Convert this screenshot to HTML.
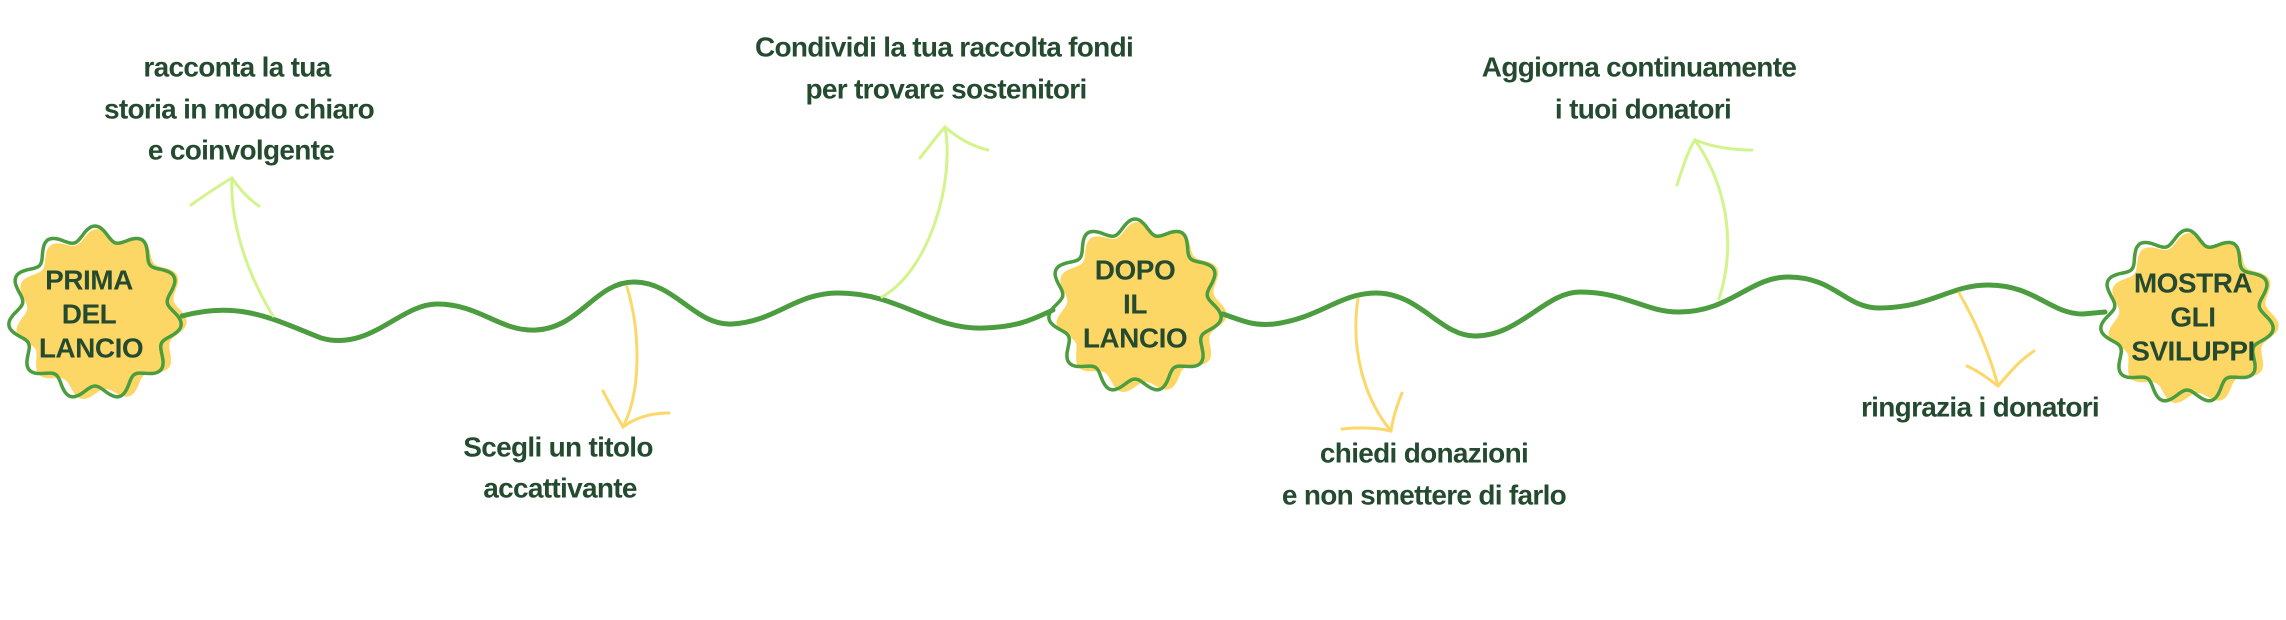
<!DOCTYPE html>
<html><head><meta charset="utf-8"><style>
html,body{margin:0;padding:0;background:#fff;}
svg{display:block;}
text{font-family:"Liberation Sans",sans-serif;font-weight:bold;fill:#244a2f;text-anchor:middle;dominant-baseline:middle;}
.l{font-size:28px;letter-spacing:-0.7px;}
.b{font-size:28px;letter-spacing:-0.5px;}
</style></head><body>
<svg id="s" width="2286" height="620" viewBox="0 0 2286 620" xmlns="http://www.w3.org/2000/svg">
<g id="badges"></g>
<path d="M182,316 C240,300 275,320 321,338 C370,352 400,304 437,304 C480,304 500,332 536,330 C580,328 595,282 634,282 C675,282 695,326 732,324 C775,322 795,293 838,293 C900,293 930,330 984,328 C1020,327 1035,318 1053,310" fill="none" stroke="#4c9d3f" stroke-width="5" stroke-linecap="round"/>
<path d="M1223,314 C1245,322 1255,326 1274,324 C1320,318 1340,293 1376,293 C1420,293 1440,336 1475,336 C1520,336 1545,292 1580,292 C1625,292 1645,312 1679,312 C1730,312 1750,277 1788,277 C1835,277 1845,308 1879,308 C1930,308 1950,285 1988,285 C2035,285 2050,314 2083,314 L2105,312" fill="none" stroke="#4c9d3f" stroke-width="5" stroke-linecap="round"/>
<g fill="none" stroke-width="3" stroke-linecap="round">
<path d="M273,316 C245,270 230,220 232,178" stroke="#d3f48c"/>
<path d="M191,205 C205,195 220,185 232,178 C240,190 250,200 259,206" stroke="#d3f48c"/>
<path d="M882,297 C930,270 955,180 945,127" stroke="#d3f48c"/>
<path d="M920,158 C930,145 938,135 945,127 C960,140 975,147 988,150" stroke="#d3f48c"/>
<path d="M1719,299 C1735,250 1730,190 1695,140" stroke="#d3f48c"/>
<path d="M1677,185 C1682,170 1688,150 1695,140 C1715,148 1735,150 1752,150" stroke="#d3f48c"/>
<path d="M627,287 C640,330 642,390 623,427" stroke="#fcd86a"/>
<path d="M603,391 C610,405 618,418 623,427 C635,418 650,413 669,413" stroke="#fcd86a"/>
<path d="M1358,299 C1350,350 1365,400 1391,431" stroke="#fcd86a"/>
<path d="M1342,429 C1360,427 1378,428 1391,431 C1393,418 1397,405 1402,393" stroke="#fcd86a"/>
<path d="M1959,293 C1975,320 1990,355 1998,386" stroke="#fcd86a"/>
<path d="M1967,366 C1980,372 1990,380 1998,386 C2010,372 2020,360 2034,351" stroke="#fcd86a"/>
</g>
<text class="b" x="89" y="282">PRIMA</text>
<text class="b" x="89" y="316">DEL</text>
<text class="b" x="91" y="350">LANCIO</text>
<text class="b" x="1135" y="272">DOPO</text>
<text class="b" x="1135" y="306">IL</text>
<text class="b" x="1135" y="340">LANCIO</text>
<text class="b" x="2193" y="285">MOSTRA</text>
<text class="b" x="2193" y="319">GLI</text>
<text class="b" x="2193" y="353">SVILUPPI</text>
<text class="l" x="237" y="69">racconta la tua</text>
<text class="l" x="239" y="111">storia in modo chiaro</text>
<text class="l" x="241" y="152">e coinvolgente</text>
<text class="l" x="944" y="49">Condividi la tua raccolta fondi</text>
<text class="l" x="946" y="91">per trovare sostenitori</text>
<text class="l" x="558" y="449">Scegli un titolo</text>
<text class="l" x="560" y="490">accattivante</text>
<text class="l" x="1639" y="69">Aggiorna continuamente</text>
<text class="l" x="1643" y="111">i tuoi donatori</text>
<text class="l" x="1424" y="455">chiedi donazioni</text>
<text class="l" x="1424" y="497">e non smettere di farlo</text>
<text class="l" x="1980" y="409">ringrazia i donatori</text>
</svg>
<script>
(function(){
var g=document.getElementById('badges');
function wav(cx,cy,R,a,n,ph){
 var d='';for(var i=0;i<=240;i++){var t=i/240*Math.PI*2;var r=R+a*Math.sin(n*t+ph);
 var x=cx+r*Math.cos(t),y=cy+r*Math.sin(t);d+=(i?'L':'M')+x.toFixed(1)+','+y.toFixed(1);}return d+'Z';}
var B=[[95,313],[1135,306],[2187,317]];
B.forEach(function(b){
 var p1=document.createElementNS('http://www.w3.org/2000/svg','path');
 p1.setAttribute('d',wav(b[0]+6,b[1]+2,80,6,11,0.6));p1.setAttribute('fill','#fdd766');g.appendChild(p1);
 var p2=document.createElementNS('http://www.w3.org/2000/svg','path');
 p2.setAttribute('d',wav(b[0],b[1],80,7,11,0));p2.setAttribute('fill','none');
 p2.setAttribute('stroke','#4c9d3f');p2.setAttribute('stroke-width','3.5');g.appendChild(p2);
});
})();
</script>
</body></html>
